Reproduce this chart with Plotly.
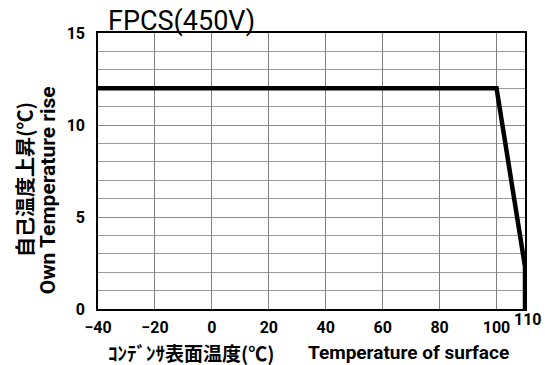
import plotly.graph_objects as go

# curve points
temp_c = [-40, 100, 110, 110]
rise_c = [12, 12, 2.3, 0]

x_ticks = [-40, -20, 0, 20, 40, 60, 80, 100]
y_ticks = [0, 5, 10, 15]

tick_font = dict(family="Roboto, sans-serif", size=16, color="black", weight="bold")
en_font = dict(family="Roboto, sans-serif", size=19, color="black", weight="bold")
jp_font = dict(family="Noto Sans CJK JP", size=19, color="black", weight="bold")

fig = go.Figure()
fig.add_trace(go.Scatter(
    x=temp_c, y=rise_c, mode="lines",
    line=dict(color="black", width=4.5),
    showlegend=False, hoverinfo="skip",
))

fig.update_layout(
    width=545, height=365,
    margin=dict(l=98, r=20, t=33, b=56),
    paper_bgcolor="white", plot_bgcolor="white",
    xaxis=dict(
        range=[-40, 110], tickvals=x_ticks, ticktext=[str(v).replace("-", "\u2212") for v in x_ticks],
        showgrid=True, gridcolor="#808080", gridwidth=1,
        showline=True, linecolor="black", linewidth=1.5, mirror=True,
        zeroline=False, ticks="", tickfont=tick_font, ticklabelstandoff=3,
    ),
    yaxis=dict(
        range=[0, 15], tickvals=y_ticks,
        showgrid=True, gridcolor="#8a8a8a", gridwidth=1,
        minor=dict(dtick=1, showgrid=True, gridcolor="#9a9a9a", gridwidth=1),
        showline=True, linecolor="black", linewidth=1.5, mirror=True,
        zeroline=False, ticks="", tickfont=tick_font, ticklabelstandoff=8,
    ),
)

# title and axis labels
fig.add_annotation(text="FPCS(450V)", xref="paper", yref="paper", x=0.0, y=1.0,
                   xanchor="left", yanchor="middle", xshift=8, yshift=12, showarrow=False,
                   font=dict(family="Roboto, sans-serif", size=27, color="black"))
fig.add_annotation(text="110", xref="x", yref="y", x=110, y=0, xanchor="center", yanchor="middle",
                   xshift=3, yshift=-10, showarrow=False, font=tick_font)
fig.add_annotation(text="ｺﾝﾃﾞﾝｻ表面温度(℃)", xref="paper", yref="paper", x=0.0, y=0,
                   xanchor="left", yanchor="middle", xshift=8, yshift=-43, showarrow=False, font=jp_font)
fig.add_annotation(text="Temperature of surface", xref="paper", yref="paper", x=1.0, y=0,
                   xanchor="right", yanchor="middle", xshift=-14, yshift=-43, showarrow=False, font=en_font)
fig.add_annotation(text="自己温度上昇(℃)", xref="paper", yref="paper", x=0, y=0.467,
                   xanchor="center", yanchor="middle", xshift=-74, textangle=-90, showarrow=False,
                   font=dict(family="Noto Sans CJK JP", size=20, color="black", weight="bold"))
fig.add_annotation(text="Own Temperature rise", xref="paper", yref="paper", x=0, y=0.43,
                   xanchor="center", yanchor="middle", xshift=-50, textangle=-90, showarrow=False,
                   font=dict(family="Roboto, sans-serif", size=21, color="black", weight="bold"))

fig.write_html("out.html", config={"displayModeBar": False},
               post_script="document.body.style.margin='0';")
